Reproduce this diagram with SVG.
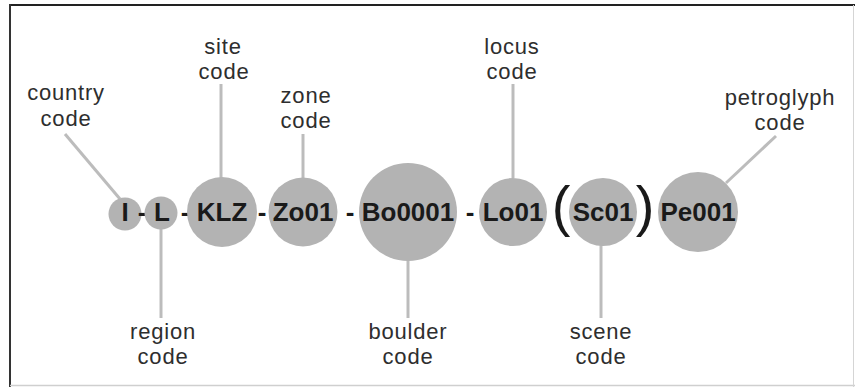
<svg xmlns="http://www.w3.org/2000/svg" width="855" height="387" viewBox="0 0 855 387">
<style>
.node{fill:#b3b3b3}
.code{font-family:"Liberation Sans",Arial,sans-serif;font-weight:bold;font-size:26px;fill:#1a1a1a;text-anchor:middle}
.paren{font-family:"Liberation Sans",Arial,sans-serif;font-size:56px;fill:#1a1a1a;text-anchor:middle}
.lbl{font-family:"Liberation Sans",Arial,sans-serif;font-size:22px;letter-spacing:0.8px;fill:#2e2e2e;text-anchor:middle}
.conn line{stroke:#bcbcbc;stroke-width:3}
</style>
<rect x="0" y="0" width="855" height="387" fill="#ffffff"/>
<line x1="10" y1="5" x2="855" y2="5" stroke="#222" stroke-width="2"/>
<line x1="10" y1="4" x2="10" y2="387" stroke="#333" stroke-width="2"/>
<line x1="10" y1="385.5" x2="855" y2="385.5" stroke="#cfcfcf" stroke-width="1.5"/>
<line x1="853.5" y1="5" x2="853.5" y2="387" stroke="#d5d5d5" stroke-width="1"/>
<g id="connectors" class="conn">
<line x1="65" y1="134" x2="120" y2="199"/>
<line x1="221" y1="84" x2="221" y2="178"/>
<line x1="303" y1="134" x2="303" y2="178"/>
<line x1="513" y1="84" x2="513" y2="178"/>
<line x1="776" y1="136" x2="726" y2="183"/>
<line x1="161" y1="228" x2="161" y2="318"/>
<line x1="408" y1="258" x2="408" y2="318"/>
<line x1="601" y1="245" x2="601" y2="318"/>
</g>
<g id="node-I"><circle class="node" cx="125" cy="214" r="16.5"/><text class="code" x="125" y="221">I</text></g>
<text class="code" x="142" y="221">-</text>
<g id="node-L"><circle class="node" cx="161" cy="213" r="16.5"/><text class="code" x="162" y="221">L</text></g>
<text class="code" x="185" y="221">-</text>
<g id="node-KLZ"><circle class="node" cx="222" cy="212" r="35"/><text class="code" x="222" y="221">KLZ</text></g>
<text class="code" x="262" y="221">-</text>
<g id="node-Zo01"><circle class="node" cx="303" cy="212" r="34.5"/><text class="code" x="303" y="221">Zo01</text></g>
<text class="code" x="350" y="221">-</text>
<g id="node-Bo0001"><circle class="node" cx="408" cy="212" r="49"/><text class="code" x="408" y="221">Bo0001</text></g>
<text class="code" x="470" y="221">-</text>
<g id="node-Lo01"><circle class="node" cx="513" cy="212" r="34"/><text class="code" x="513" y="221">Lo01</text></g>
<text class="paren" x="561" y="225">(</text>
<g id="node-Sc01"><circle class="node" cx="603" cy="212" r="34"/><text class="code" x="603" y="221">Sc01</text></g>
<text class="paren" x="645" y="225">)</text>
<g id="node-Pe001"><circle class="node" cx="698" cy="212" r="40"/><text class="code" x="698" y="221">Pe001</text></g>
<g id="label-country"><text class="lbl" x="66" y="100">country</text><text class="lbl" x="66" y="126">code</text></g>
<g id="label-site"><text class="lbl" x="223" y="54">site</text><text class="lbl" x="224" y="79">code</text></g>
<g id="label-zone"><text class="lbl" x="306" y="103">zone</text><text class="lbl" x="306" y="128">code</text></g>
<g id="label-locus"><text class="lbl" x="512" y="54">locus</text><text class="lbl" x="512" y="79">code</text></g>
<g id="label-petroglyph"><text class="lbl" x="780" y="105">petroglyph</text><text class="lbl" x="780" y="130">code</text></g>
<g id="label-region"><text class="lbl" x="163" y="339">region</text><text class="lbl" x="163" y="364">code</text></g>
<g id="label-boulder"><text class="lbl" x="408" y="339">boulder</text><text class="lbl" x="408" y="364">code</text></g>
<g id="label-scene"><text class="lbl" x="601" y="339">scene</text><text class="lbl" x="601" y="364">code</text></g>
</svg>
